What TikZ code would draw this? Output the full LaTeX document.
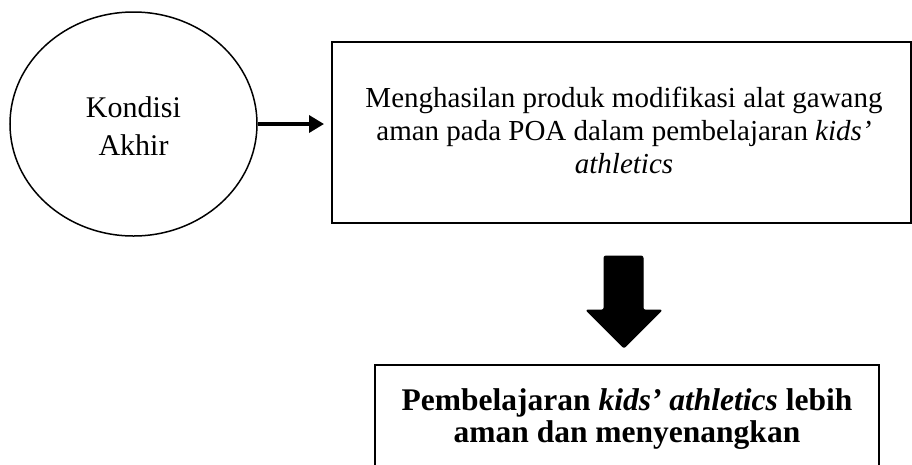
\documentclass[tikz,border=0pt]{standalone}
\usepackage{fontspec}
\setmainfont{Liberation Serif}
\usetikzlibrary{arrows.meta,shapes.geometric}
\begin{document}
\begin{tikzpicture}[x=1pt,y=-1pt,
  txt/.style={font=\fontsize{29pt}{33pt}\selectfont, align=center},
  oval/.style={ellipse, draw, line width=1.5pt, minimum width=247pt, minimum height=224pt, inner sep=0pt},
  topbox/.style={draw, line width=2pt, minimum width=579pt, minimum height=181pt, inner sep=0pt},
  botbox/.style={draw, line width=2pt, minimum width=504pt, minimum height=110pt, inner sep=0pt},
  conn/.style={line width=3.5pt, -{Triangle[length=15pt,width=17pt]}},
  blockarrow/.style={fill=black, draw=black, line width=1pt, rounded corners=2pt, line join=round}
]
\useasboundingbox (0,0) rectangle (912,464);
\node[oval] (cond) at (133.5,124) {};
\node[txt, font=\fontsize{30pt}{38pt}\selectfont] (condtext) at (133.5,126) {Kondisi\\Akhir};
\node[topbox] (prod) at (621.5,132.5) {};
\node[txt] (prodtext) at (624,130) {Menghasilan produk modifikasi alat gawang\\aman pada POA dalam pembelajaran \textit{kids’}\\\textit{athletics}};
\node[botbox] (res) at (627,420) {};
\node[txt, font=\fontsize{31.5pt}{32pt}\selectfont\bfseries] (restext) at (627,419) {Pembelajaran \textit{kids’ athletics} lebih\\aman dan menyenangkan};
\coordinate (tip) at ([xshift=-7pt]prod.west |- cond.east);
\draw[conn] (cond.east) -- (tip);
\draw[blockarrow] (604,256) -- (643,256) -- (643,310) -- (662,310) -- (624,348) -- (586,310) -- (604,310) -- cycle;
\end{tikzpicture}
\end{document}
